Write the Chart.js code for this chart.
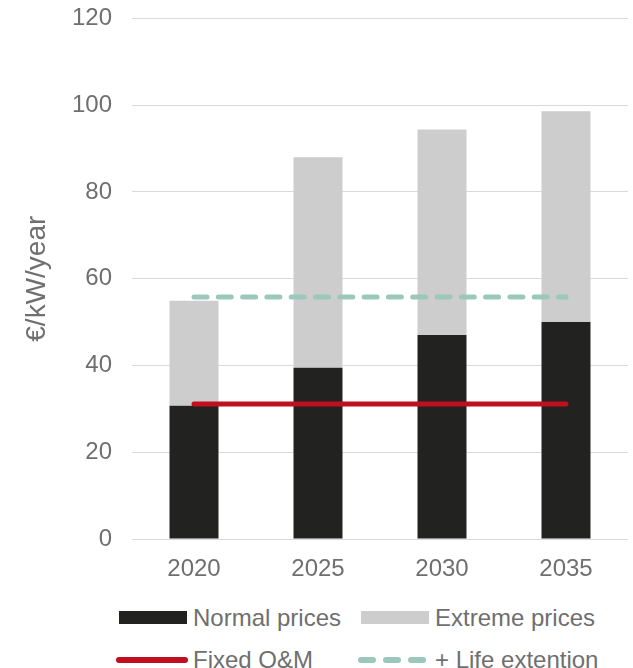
<!DOCTYPE html>
<html>
<head>
  <meta charset="UTF-8">
  <title>Cost per kW</title>
  <script src="https://cdn.jsdelivr.net/npm/chart.js"></script>
  <style>
    body { margin: 0; background: #fff; font-family: "Liberation Sans", Arial, sans-serif; }
    .wrap { position: relative; width: 633px; height: 668px; overflow: hidden; }
    .chart-box { position: absolute; left: 0; top: -16px; width: 633px; height: 606px; }
    .legend-item { position: absolute; font-size: 24px; line-height: 24px; color: #6f6f6f; white-space: nowrap; }
    .swatch { position: absolute; }
  </style>
</head>
<body>
  <div class="wrap">
    <div class="chart-box"><canvas id="c"></canvas></div>

    <svg class="swatch" style="left:119px;top:611px" width="68" height="13"><rect width="68" height="13" fill="#222220"/></svg>
    <div class="legend-item" style="left:193px;top:606px">Normal prices</div>
    <svg class="swatch" style="left:361px;top:611px" width="68" height="13"><rect width="68" height="13" fill="#cdcdcd"/></svg>
    <div class="legend-item" style="left:435px;top:606px">Extreme prices</div>

    <svg class="swatch" style="left:114px;top:654px" width="76" height="12"><line x1="5" y1="6" x2="71" y2="6" stroke="#c00f1e" stroke-width="6" stroke-linecap="round"/></svg>
    <div class="legend-item" style="left:193px;top:648px">Fixed O&amp;M</div>
    <svg class="swatch" style="left:356px;top:654px" width="70" height="12"><line x1="5" y1="6" x2="67" y2="6" stroke="#9cc8bc" stroke-width="6" stroke-linecap="round" stroke-dasharray="12 13"/></svg>
    <div class="legend-item" style="left:435px;top:648px">+ Life extention</div>
  </div>

  <script>
    const years = ['2020', '2025', '2030', '2035'];
    const normalPrices = [30.7, 39.5, 47.0, 50.0];
    const extremePrices = [24.2, 48.5, 47.4, 48.6]; // stacked on top of normal
    const fixedOM = [31.1, 31.1, 31.1, 31.1];
    const lifeExtension = [55.8, 55.8, 55.8, 55.8];
    const yTicks = { min: 0, max: 120, step: 20 };

    const font = "'Liberation Sans', Arial, sans-serif";
    const textColor = '#6f6f6f';

    new Chart(document.getElementById('c'), {
      type: 'bar',
      data: {
        labels: years,
        datasets: [
          {
            type: 'line', label: 'Fixed O&M', data: fixedOM, stack: 'om', order: 0,
            borderColor: '#c00f1e', borderWidth: 5, borderCapStyle: 'round',
            pointRadius: 0, fill: false
          },
          {
            type: 'line', label: '+ Life extention', data: lifeExtension, stack: 'life', order: 0,
            borderColor: '#9cc8bc', borderWidth: 5, borderCapStyle: 'round', borderDash: [13, 11.3],
            pointRadius: 0, fill: false
          },
          {
            label: 'Normal prices', data: normalPrices, order: 1,
            backgroundColor: '#222220', categoryPercentage: 1, barPercentage: 0.395
          },
          {
            label: 'Extreme prices', data: extremePrices, order: 1,
            backgroundColor: '#cdcdcd', categoryPercentage: 1, barPercentage: 0.395
          }
        ]
      },
      options: {
        responsive: true,
        maintainAspectRatio: false,
        animation: false,
        layout: { padding: { top: 2, right: 5, left: 0, bottom: 0 } },
        plugins: { legend: { display: false }, tooltip: { enabled: false } },
        scales: {
          x: {
            stacked: true,
            grid: { display: false },
            border: { display: false },
            ticks: { color: textColor, font: { family: font, size: 24 }, padding: 8 },
            afterFit: s => { s.height = 51; }
          },
          y: {
            stacked: true,
            min: yTicks.min, max: yTicks.max,
            grid: { color: '#d9d9d9', lineWidth: 1, drawTicks: false },
            border: { display: false },
            ticks: { stepSize: yTicks.step, color: textColor, font: { family: font, size: 24 }, padding: 20 },
            title: { display: true, text: '€/kW/year', color: textColor, font: { family: font, size: 28 }, padding: { top: 20, bottom: 0 } },
            afterFit: s => { s.width = 132; }
          }
        }
      }
    });
  </script>
</body>
</html>
